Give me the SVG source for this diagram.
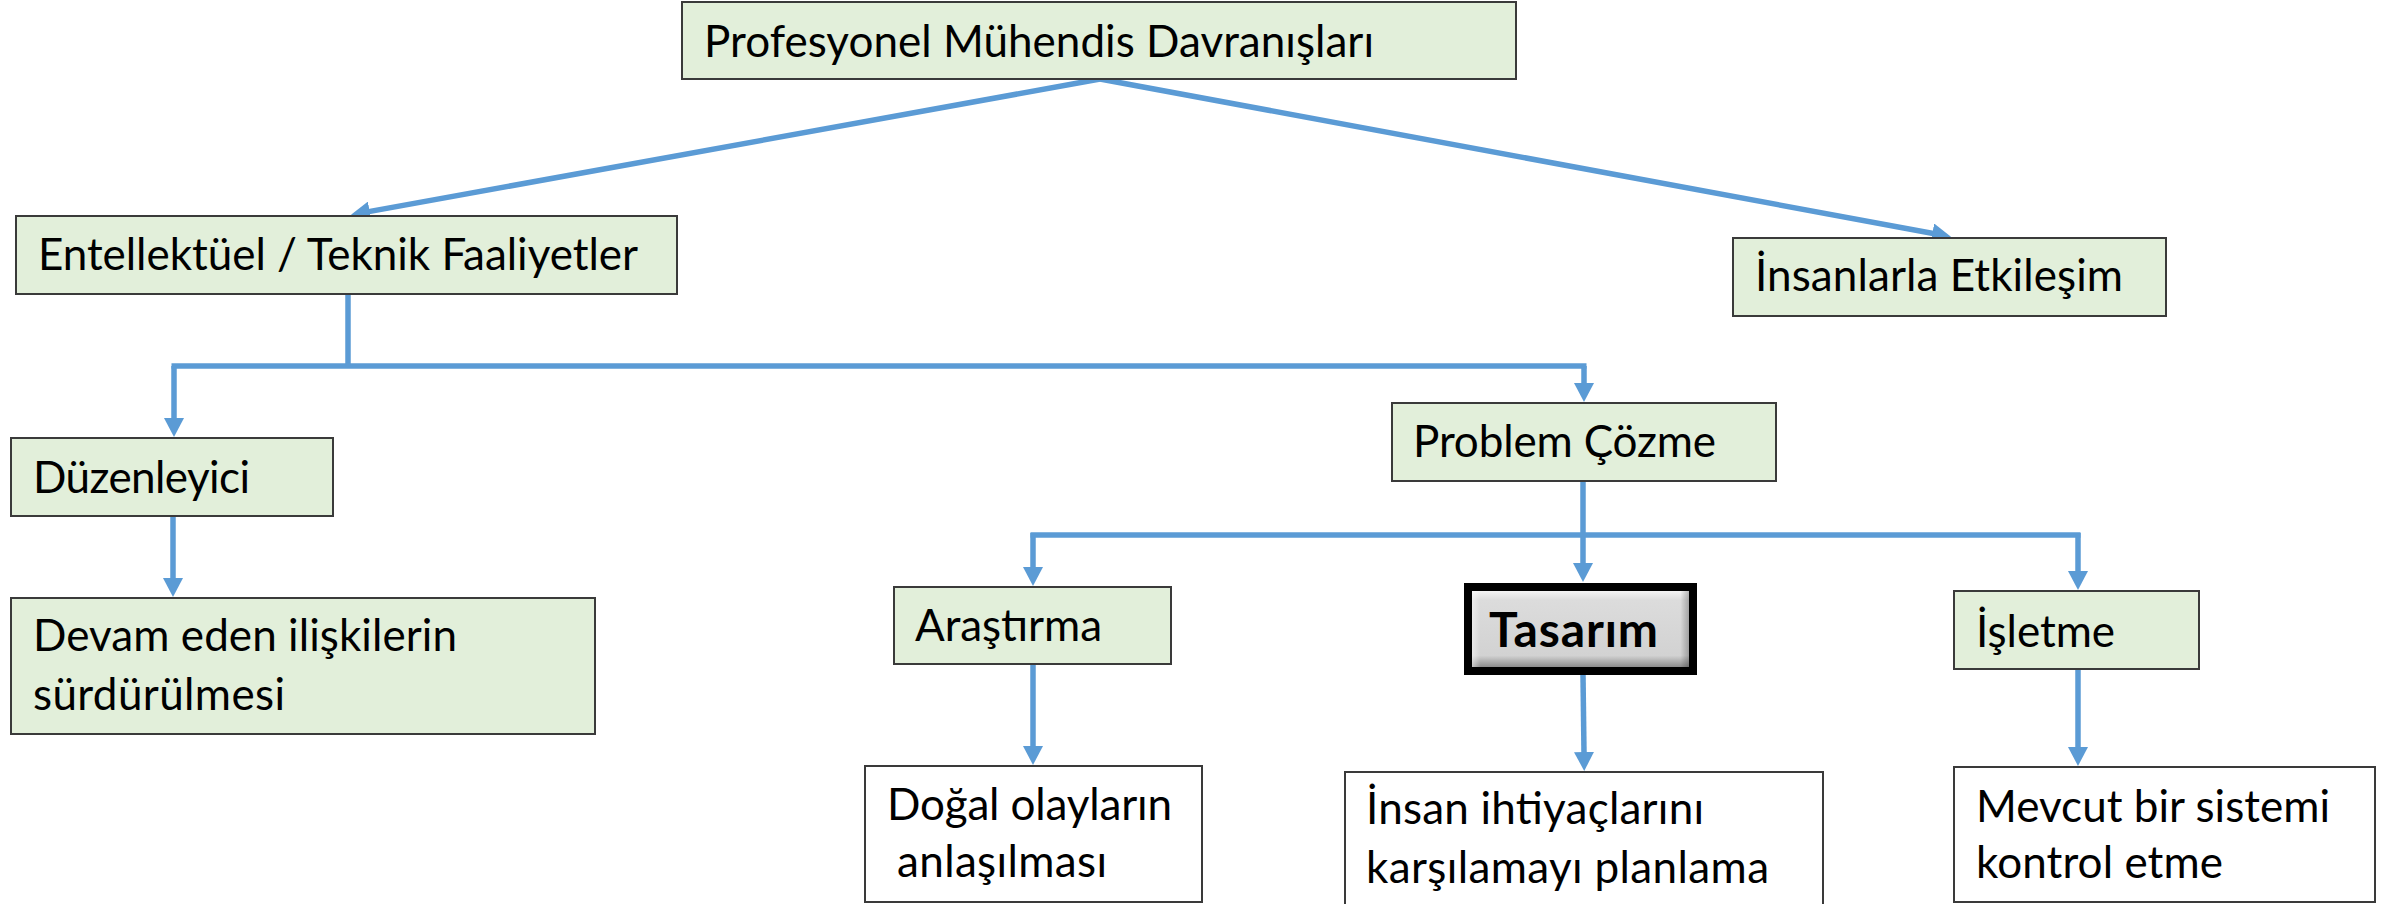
<svg xmlns="http://www.w3.org/2000/svg" width="2404" height="904" viewBox="0 0 2404 904">
<defs>
<marker id="arr" markerWidth="20" markerHeight="20" refX="1" refY="10" orient="auto" markerUnits="userSpaceOnUse">
<path d="M0,0 L19,10 L0,20 z" fill="#5B9BD5"/>
</marker>
<linearGradient id="bevelV" x1="0" y1="0" x2="0" y2="1">
<stop offset="0" stop-color="#f4f4f4"/>
<stop offset="0.12" stop-color="#dcdcdc"/>
<stop offset="0.85" stop-color="#d2d2d2"/>
<stop offset="1" stop-color="#8c8c8c"/>
</linearGradient>
<linearGradient id="bevelH" x1="0" y1="0" x2="1" y2="0">
<stop offset="0" stop-color="#ffffff" stop-opacity="0.5"/>
<stop offset="0.04" stop-color="#ffffff" stop-opacity="0"/>
<stop offset="0.96" stop-color="#000000" stop-opacity="0"/>
<stop offset="1" stop-color="#000000" stop-opacity="0.25"/>
</linearGradient>
</defs>
<style>
.box{fill:#E2EFDA;stroke:#3a3a3a;stroke-width:2}
.wbox{fill:#FFFFFF;stroke:#3a3a3a;stroke-width:2}
.t{font-family:Lato,"Open Sans","Liberation Sans",sans-serif;font-size:44px;fill:#000}
.tb{font-family:Lato,"Open Sans","Liberation Sans",sans-serif;font-size:48px;font-weight:bold;fill:#000}
.c{fill:none;stroke:#5B9BD5;stroke-width:5.5}
</style>
<rect width="2404" height="904" fill="#FFFFFF"/>

<g id="connectors">
<path class="c" d="M1100,79 L368.7,211.6" marker-end="url(#arr)"/>
<path class="c" d="M1100,79 L1933.3,233.5" marker-end="url(#arr)"/>
<path class="c" d="M348,294 V366"/>
<path class="c" d="M171.5,366 H1586.5"/>
<path class="c" d="M174,366 V419" marker-end="url(#arr)"/>
<path class="c" d="M1584,366 V384" marker-end="url(#arr)"/>
<path class="c" d="M173,516 V579" marker-end="url(#arr)"/>
<path class="c" d="M1583,481 V535"/>
<path class="c" d="M1030.5,535 H2080.5"/>
<path class="c" d="M1033,533 V568" marker-end="url(#arr)"/>
<path class="c" d="M1583,533 V564" marker-end="url(#arr)"/>
<path class="c" d="M2078,533 V572" marker-end="url(#arr)"/>
<path class="c" d="M1033,664 V747" marker-end="url(#arr)"/>
<path class="c" d="M1583,675 L1584,753" marker-end="url(#arr)"/>
<path class="c" d="M2078,670 V748" marker-end="url(#arr)"/>
</g>

<g id="node-profesyonel">
<rect class="box" x="682" y="2" width="834" height="77"/>
<text class="t" x="704" y="57" textLength="670">Profesyonel Mühendis Davranışları</text>
</g>
<g id="node-entellektuel">
<rect class="box" x="16" y="216" width="661" height="78"/>
<text class="t" x="38" y="270" textLength="600">Entellektüel / Teknik Faaliyetler</text>
</g>
<g id="node-insanlarla">
<rect class="box" x="1733" y="238" width="433" height="78"/>
<text class="t" x="1755" y="291" textLength="368">İnsanlarla Etkileşim</text>
</g>
<g id="node-duzenleyici">
<rect class="box" x="11" y="438" width="322" height="78"/>
<text class="t" x="33" y="493" textLength="217">Düzenleyici</text>
</g>
<g id="node-devam">
<rect class="box" x="11" y="598" width="584" height="136"/>
<text class="t" x="33" y="651" textLength="424">Devam eden ilişkilerin</text>
<text class="t" x="33" y="710" textLength="252">sürdürülmesi</text>
</g>
<g id="node-problem">
<rect class="box" x="1392" y="403" width="384" height="78"/>
<text class="t" x="1413" y="457" textLength="303">Problem Çözme</text>
</g>
<g id="node-arastirma">
<rect class="box" x="894" y="587" width="277" height="77"/>
<text class="t" x="915" y="641" textLength="187">Araştırma</text>
</g>
<g id="node-tasarim">
<rect x="1464" y="583" width="233" height="92" fill="#000000"/>
<rect x="1472" y="591" width="217" height="76" fill="url(#bevelV)"/>
<rect x="1472" y="591" width="217" height="76" fill="url(#bevelH)"/>
<text class="tb" x="1489" y="647" textLength="169">Tasarım</text>
</g>
<g id="node-isletme">
<rect class="box" x="1954" y="591" width="245" height="78"/>
<text class="t" x="1976" y="647" textLength="139">İşletme</text>
</g>
<g id="node-dogal">
<rect class="wbox" x="865" y="766" width="337" height="136"/>
<text class="t" x="887" y="820" textLength="285">Doğal olayların</text>
<text class="t" x="897" y="877" textLength="210">anlaşılması</text>
</g>
<g id="node-insan">
<rect class="wbox" x="1345" y="772" width="478" height="150"/>
<text class="t" x="1366" y="824" textLength="338">İnsan ihtiyaçlarını</text>
<text class="t" x="1366" y="883" textLength="403">karşılamayı planlama</text>
</g>
<g id="node-mevcut">
<rect class="wbox" x="1954" y="767" width="421" height="135"/>
<text class="t" x="1976" y="822" textLength="354">Mevcut bir sistemi</text>
<text class="t" x="1976" y="878" textLength="247">kontrol etme</text>
</g>
</svg>
